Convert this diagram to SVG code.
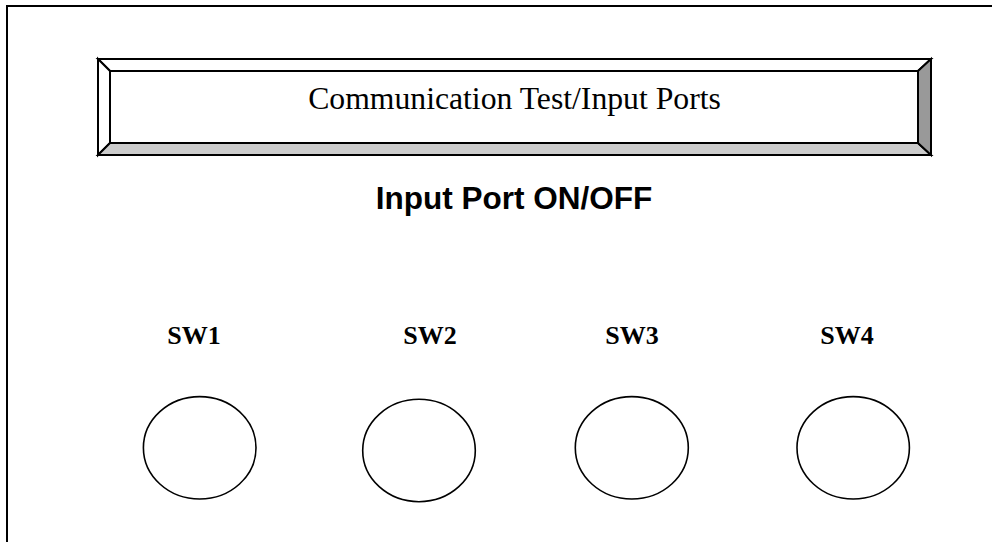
<svg xmlns="http://www.w3.org/2000/svg" width="992" height="542" viewBox="0 0 992 542">
<style>
.ln{stroke:#000;stroke-width:2;fill:none}
.bv{stroke:#000;stroke-width:2;stroke-linejoin:miter}
.sw{fill:#fff;stroke:#000;stroke-width:1.6}
.lbl{font-family:"Liberation Serif","Times New Roman",serif;font-weight:bold;font-size:26px;text-anchor:middle;fill:#000}
</style>
<rect width="992" height="542" fill="#fff"/>
<g id="frame">
<path class="ln" d="M7 542 V6 H992"/>
</g>
<g id="title-box">
<polygon class="bv" fill="#fff" points="98,59 931,59 918,71 110,71"/>
<polygon class="bv" fill="#fff" points="98,59 110,71 110,143 98,155"/>
<polygon class="bv" fill="#ccc" points="98,155 110,143 918,143 931,155"/>
<polygon class="bv" fill="#999" points="931,59 931,155 918,143 918,71"/>
<rect class="bv" fill="#fff" x="110" y="71" width="808" height="72"/>
<text x="514.5" y="108.5" font-family="Liberation Serif, Times New Roman, serif" font-size="31.7" text-anchor="middle" fill="#000">Communication Test/Input Ports</text>
</g>
<g id="heading">
<text x="514" y="208.5" font-family="Liberation Sans, Arial, sans-serif" font-weight="bold" font-size="31.5" text-anchor="middle" fill="#000">Input Port ON/OFF</text>
</g>
<g id="sw1">
<text class="lbl" x="194" y="343.5">SW1</text>
<ellipse class="sw" cx="199.7" cy="447.8" rx="56.3" ry="51.2"/>
</g>
<g id="sw2">
<text class="lbl" x="430" y="344.3">SW2</text>
<ellipse class="sw" cx="419" cy="450.5" rx="56.3" ry="51.2"/>
</g>
<g id="sw3">
<text class="lbl" x="632" y="344">SW3</text>
<ellipse class="sw" cx="631.8" cy="447.8" rx="56.5" ry="51.2"/>
</g>
<g id="sw4">
<text class="lbl" x="847" y="343.5">SW4</text>
<ellipse class="sw" cx="853.2" cy="447.8" rx="56.2" ry="51.2"/>
</g>
<g id="connectors"></g>
</svg>
